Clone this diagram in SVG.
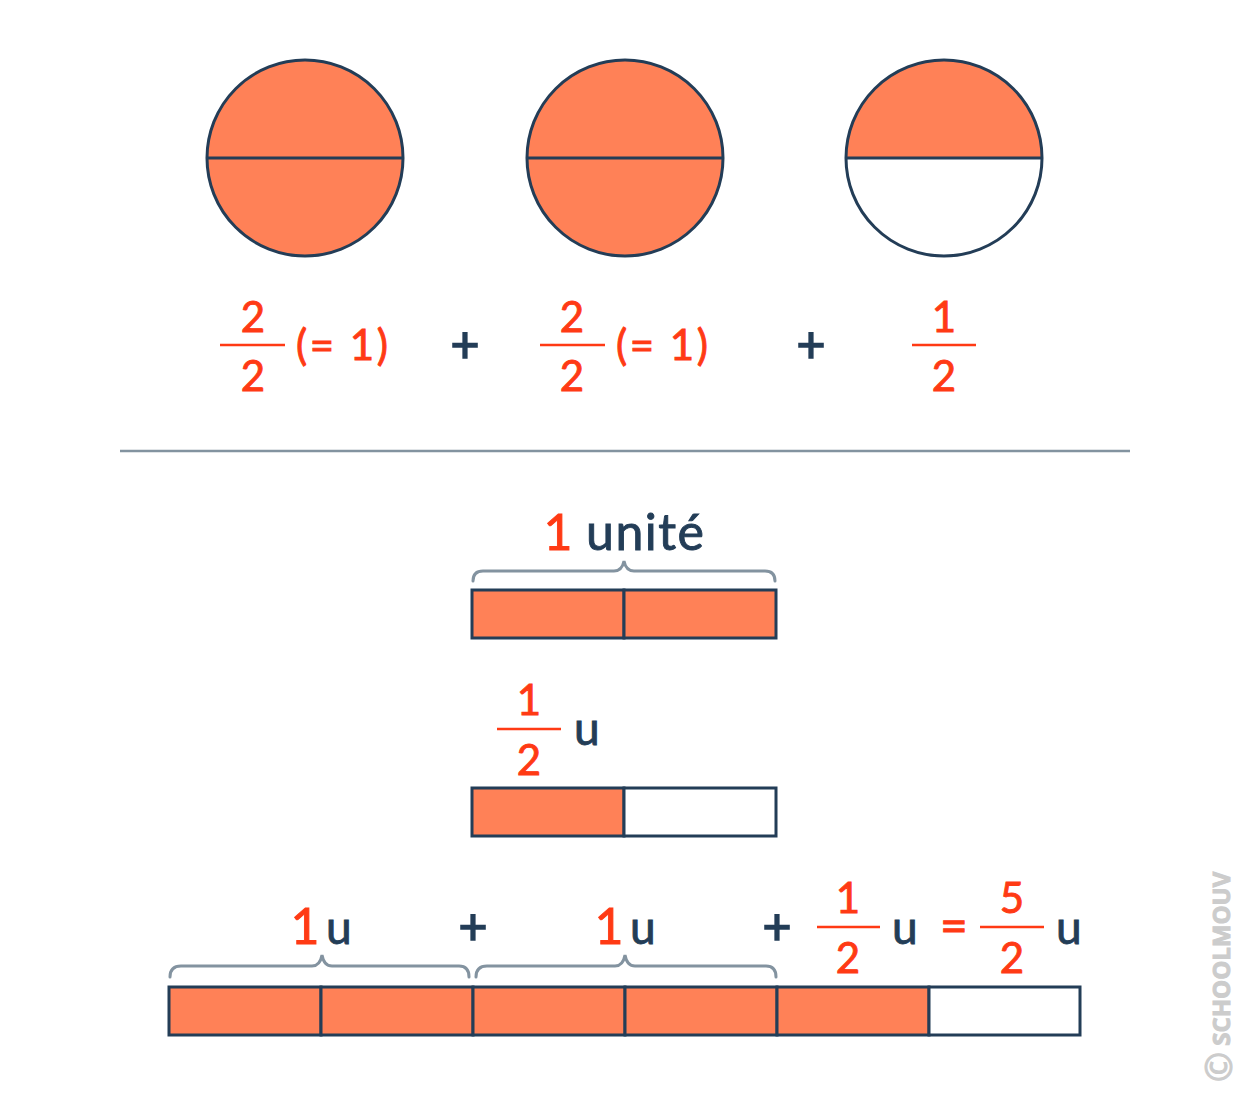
<svg xmlns="http://www.w3.org/2000/svg" width="1250" height="1095" viewBox="0 0 1250 1095">
<style>
.o{fill:#FF8157;stroke:#233D57;stroke-width:3}
.w{fill:#FFFFFF;stroke:#233D57;stroke-width:3}
.ln{stroke:#233D57;stroke-width:3}
.r{fill:#FF3A14;stroke:#FF3A14;stroke-width:0.9;font-family:Lato,"Noto Sans",sans-serif;font-size:42px;text-anchor:middle}
.d{fill:#233D57;stroke:#233D57;stroke-width:0.9;font-family:Lato,"Noto Sans",sans-serif;font-size:46px}
.p{fill:#233D57;stroke:#233D57;stroke-width:1.6;font-family:Lato,"Noto Sans",sans-serif;font-size:50px;text-anchor:middle}
.fb{stroke:#FF3A14;stroke-width:2.5}
.br{fill:none;stroke:#8393A0;stroke-width:3;stroke-linecap:round}
</style>
<rect width="1250" height="1095" fill="#FFFFFF"/>
<g id="circle1">
<circle cx="305" cy="158" r="98" class="o"/>
<line x1="207" y1="158" x2="403" y2="158" class="ln"/>
</g>
<g id="circle2">
<circle cx="625" cy="158" r="98" class="o"/>
<line x1="527" y1="158" x2="723" y2="158" class="ln"/>
</g>
<g id="circle3">
<path d="M846,158 A98,98 0 0 1 1042,158 Z" fill="#FF8157"/>
<path d="M846,158 A98,98 0 0 0 1042,158 Z" fill="#FFFFFF"/>
<circle cx="944" cy="158" r="98" fill="none" stroke="#233D57" stroke-width="3"/>
<line x1="846" y1="158" x2="1042" y2="158" class="ln"/>
</g>
<g id="frac1">
<text x="253" y="332" class="r">2</text>
<line x1="220" y1="345" x2="285" y2="345" class="fb"/>
<text x="253" y="391" class="r">2</text>
<text x="296" y="360" class="r" style="text-anchor:start;letter-spacing:2.5px">(= 1)</text>
</g>
<text x="465" y="362" class="p">+</text>
<g id="frac2">
<text x="572" y="332" class="r">2</text>
<line x1="540" y1="345" x2="605" y2="345" class="fb"/>
<text x="572" y="391" class="r">2</text>
<text x="616" y="360" class="r" style="text-anchor:start;letter-spacing:2.5px">(= 1)</text>
</g>
<text x="811" y="362" class="p">+</text>
<g id="frac3">
<text x="944" y="332" class="r">1</text>
<line x1="912" y1="345" x2="976" y2="345" class="fb"/>
<text x="944" y="391" class="r">2</text>
</g>
<line x1="120" y1="451" x2="1130" y2="451" stroke="#8393A0" stroke-width="2.5"/>
<g id="unit-bar">
<text x="558" y="550" class="r" style="font-size:50px">1</text>
<text x="586" y="550" class="d" style="font-size:50px;letter-spacing:1.5px">unité</text>
<path class="br" d="M473,581 Q473,571 483,571 L614,571 Q622,571 624,561 Q626,571 634,571 L765,571 Q775,571 775,581"/>
<rect x="472" y="590" width="152" height="48" class="o"/>
<rect x="624" y="590" width="152" height="48" class="o"/>
</g>
<g id="half-bar">
<text x="529" y="715" class="r">1</text>
<line x1="497" y1="729" x2="561" y2="729" class="fb"/>
<text x="529" y="775" class="r">2</text>
<text x="574" y="745" class="d">u</text>
<rect x="472" y="788" width="152" height="48" class="o"/>
<rect x="624" y="788" width="152" height="48" class="w"/>
</g>
<g id="total-bar">
<text x="305" y="944" class="r" style="font-size:50px">1</text>
<text x="326" y="944" class="d">u</text>
<text x="473" y="944" class="p">+</text>
<text x="609" y="944" class="r" style="font-size:50px">1</text>
<text x="630" y="944" class="d">u</text>
<text x="777" y="944" class="p">+</text>
<text x="848" y="913" class="r">1</text>
<line x1="817" y1="927" x2="880" y2="927" class="fb"/>
<text x="848" y="973" class="r">2</text>
<text x="892" y="944" class="d">u</text>
<text x="954" y="943" class="r" style="font-size:48px">=</text>
<text x="1012" y="913" class="r">5</text>
<line x1="980" y1="927" x2="1044" y2="927" class="fb"/>
<text x="1012" y="973" class="r">2</text>
<text x="1056" y="944" class="d">u</text>
<path class="br" d="M170,977 Q170,966 181,966 L312,966 Q320,966 322,955 Q324,966 332,966 L459,966 Q469,966 469,977"/>
<path class="br" d="M476,977 Q476,966 487,966 L615,966 Q623,966 625,955 Q627,966 635,966 L766,966 Q776,966 776,977"/>
<rect x="169" y="987" width="152" height="48" class="o"/>
<rect x="321" y="987" width="152" height="48" class="o"/>
<rect x="473" y="987" width="152" height="48" class="o"/>
<rect x="625" y="987" width="152" height="48" class="o"/>
<rect x="777" y="987" width="152" height="48" class="o"/>
<rect x="929" y="987" width="151" height="48" class="w"/>
</g>
<text transform="translate(1230,1082) rotate(-90)" fill="#CCCCCC" stroke="#CCCCCC" stroke-width="1" font-family="'Open Sans',sans-serif" font-weight="bold" font-size="24"><tspan font-size="36" font-weight="normal" dy="2">©</tspan><tspan dy="-2"> SCHOOLMOUV</tspan></text>
</svg>
